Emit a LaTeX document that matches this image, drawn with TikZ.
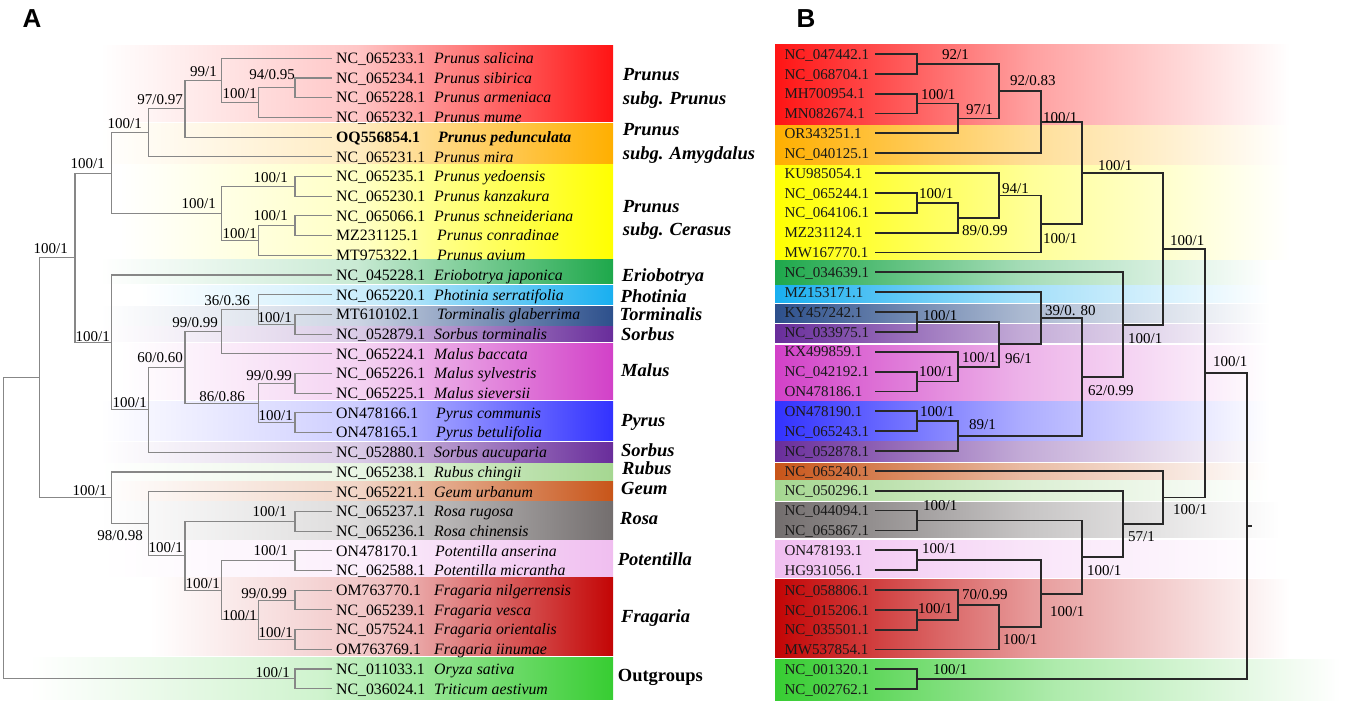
\documentclass[tikz,border=0pt]{standalone}
\usepackage{fontspec}
\setmainfont{Liberation Serif}
\newfontfamily\panelfont{Liberation Sans}
\definecolor{cPru}{RGB}{255,20,20}
\definecolor{cAmy}{RGB}{255,175,0}
\definecolor{cCer}{RGB}{255,255,0}
\definecolor{cEri}{RGB}{30,168,75}
\definecolor{cPho}{RGB}{25,175,240}
\definecolor{cTor}{RGB}{45,80,140}
\definecolor{cSor}{RGB}{105,45,155}
\definecolor{cMal}{RGB}{210,65,200}
\definecolor{cPyr}{RGB}{50,50,255}
\definecolor{cRub}{RGB}{165,215,145}
\definecolor{cGeu}{RGB}{200,85,25}
\definecolor{cRos}{RGB}{115,110,110}
\definecolor{cPot}{RGB}{240,190,240}
\definecolor{cFra}{RGB}{195,5,5}
\definecolor{cOut}{RGB}{55,205,50}
\definecolor{lineA}{RGB}{135,135,135}
\definecolor{lineB}{RGB}{40,40,40}
\definecolor{txtB}{RGB}{25,25,25}
\tikzset{
  treeA/.style={draw=lineA, line width=1.1pt},
  treeB/.style={draw=lineB, line width=1.8pt},
  tipid/.style={anchor=base west, inner sep=0pt, font=\fontsize{15.8}{18}\selectfont},
  tipsp/.style={anchor=base west, inner sep=0pt, font=\fontsize{15.8}{18}\selectfont\itshape},
  tipb/.style={anchor=base west, inner sep=0pt, text=txtB, font=\fontsize{15}{18}\selectfont},
  supA/.style={anchor=base east, inner sep=0pt, font=\fontsize{15}{18}\selectfont},
  supB/.style={anchor=base west, inner sep=0pt, font=\fontsize{15}{18}\selectfont},
  grp/.style={anchor=base west, inner sep=0pt, font=\fontsize{18.5}{22}\selectfont\bfseries\itshape},
  panel/.style={inner sep=0pt, font=\panelfont\bfseries\fontsize{26}{30}\selectfont}
}
\newcommand\bandA[4]{\shade[left color=white,right color=#4,middle color=#4!24] (#1,#2) rectangle (613,#3);}
\newcommand\bandB[4]{\shade[left color=#4,right color=white,middle color=#4!40] (775,#1) rectangle (#3,#2);}
\newcommand\TA[4]{\coordinate (ta#1) at (332,{58.3+19.7*#1});
  \node[tipid] (ida#1) at (336,{63.6+19.7*#1}) {#2};
  \node[tipsp] (spa#1) at (#4,{63.6+19.7*#1}) {#3};}
\newcommand\TB[2]{\coordinate (tb#1) at (875,{54+19.85*#1});
  \node[tipb] (idb#1) at (784.3,{59.2+19.85*#1}) {#2};}
\newcommand\kidsA[3]{\draw[treeA] (#1) |- (#2) (#1) |- (#3);}
\newcommand\kidsB[3]{\draw[treeB] (#1) |- (#2) (#1) |- (#3);}
\newcommand\LA[4]{\node[supA] (#1) at (#2,{#3+5}) {#4};}
\newcommand\LB[4]{\node[supB] (#1) at (#2,{#3+5}) {#4};}
\newcommand\GL[4]{\node[grp] (#1) at (#2,{#3+6}) {#4};}
\begin{document}
\begin{tikzpicture}[x=1pt,y=-1pt]
\useasboundingbox (0,0) rectangle (1358,706);
% ---------- bands A
\bandA{100}{46}{121.7}{cPru}
\bandA{100}{123.3}{163.3}{cAmy}
\bandA{120}{165}{258}{cCer}
\bandA{100}{259.5}{283.3}{cEri}
\bandA{140}{285}{304.3}{cPho}
\bandA{100}{306}{325}{cTor}
\bandA{100}{326.7}{341.7}{cSor}
\bandA{120}{343.3}{399.3}{cMal}
\bandA{100}{401}{440}{cPyr}
\bandA{100}{442.3}{462.3}{cSor}
\bandA{100}{463.3}{480}{cRub}
\bandA{100}{481.7}{500}{cGeu}
\bandA{100}{501.7}{539}{cRos}
\bandA{100}{540.7}{576}{cPot}
\bandA{150}{577.7}{655.7}{cFra}
\bandA{30}{657.7}{699}{cOut}
% ---------- bands B
\bandB{45}{124.3}{1290}{cPru}
\bandB{126}{164.3}{1290}{cAmy}
\bandB{166}{259.3}{1290}{cCer}
\bandB{260.5}{284}{1270}{cEri}
\bandB{285.7}{302.7}{1270}{cPho}
\bandB{304.3}{322.7}{1270}{cTor}
\bandB{324.3}{342.7}{1270}{cSor}
\bandB{345}{400}{1270}{cMal}
\bandB{401.7}{440}{1270}{cPyr}
\bandB{441.7}{461.7}{1270}{cSor}
\bandB{463.3}{479}{1270}{cGeu}
\bandB{480.7}{500}{1270}{cRub}
\bandB{502.7}{537.7}{1280}{cRos}
\bandB{540}{577.7}{1280}{cPot}
\bandB{579.3}{657.3}{1290}{cFra}
\bandB{659.3}{700}{1340}{cOut}
% ---------- panel letters
\node[panel] (pA) at (32,19) {A};
\node[panel] (pB) at (806,19) {B};
% ---------- tips A
\TA{0}{NC\_065233.1}{Prunus salicina}{434}
\TA{1}{NC\_065234.1}{Prunus sibirica}{434}
\TA{2}{NC\_065228.1}{Prunus armeniaca}{434}
\TA{3}{NC\_065232.1}{Prunus mume}{434}
\coordinate (ta4) at (332,{58.3+19.7*4});
\node[tipid,font=\fontsize{15.8}{18}\selectfont\bfseries] (ida4) at (336,{63.6+19.7*4}) {OQ556854.1};
\node[tipsp,font=\fontsize{15.8}{18}\selectfont\bfseries\itshape] (spa4) at (438,{63.6+19.7*4}) {Prunus pedunculata};
\TA{5}{NC\_065231.1}{Prunus mira}{434}
\TA{6}{NC\_065235.1}{Prunus yedoensis}{434}
\TA{7}{NC\_065230.1}{Prunus kanzakura}{434}
\TA{8}{NC\_065066.1}{Prunus schneideriana}{434}
\TA{9}{MZ231125.1}{Prunus conradinae}{437}
\TA{10}{MT975322.1}{Prunus avium}{437}
\TA{11}{NC\_045228.1}{Eriobotrya japonica}{434}
\TA{12}{NC\_065220.1}{Photinia serratifolia}{434}
\TA{13}{MT610102.1}{Torminalis glaberrima}{437}
\TA{14}{NC\_052879.1}{Sorbus torminalis}{434}
\TA{15}{NC\_065224.1}{Malus baccata}{434}
\TA{16}{NC\_065226.1}{Malus sylvestris}{434}
\TA{17}{NC\_065225.1}{Malus sieversii}{434}
\TA{18}{ON478166.1}{Pyrus communis}{436}
\TA{19}{ON478165.1}{Pyrus betulifolia}{436}
\TA{20}{NC\_052880.1}{Sorbus aucuparia}{434}
\TA{21}{NC\_065238.1}{Rubus chingii}{434}
\TA{22}{NC\_065221.1}{Geum urbanum}{434}
\TA{23}{NC\_065237.1}{Rosa rugosa}{434}
\TA{24}{NC\_065236.1}{Rosa chinensis}{434}
\TA{25}{ON478170.1}{Potentilla anserina}{435}
\TA{26}{NC\_062588.1}{Potentilla micrantha}{434}
\TA{27}{OM763770.1}{Fragaria nilgerrensis}{434}
\TA{28}{NC\_065239.1}{Fragaria vesca}{434}
\TA{29}{NC\_057524.1}{Fragaria orientalis}{434}
\TA{30}{OM763769.1}{Fragaria iinumae}{434}
\TA{31}{NC\_011033.1}{Oryza sativa}{434}
\TA{32}{NC\_036024.1}{Triticum aestivum}{434}
% ---------- internal nodes A
\coordinate (a_pp1) at (295,87.85);
\coordinate (a_pp2) at (258.3,102.6);
\coordinate (a_pp3) at (221.7,80.45);
\coordinate (a_pp4) at (185,108.8);
\coordinate (a_pp5) at (148.3,132.8);
\coordinate (a_c1) at (295,186.35);
\coordinate (a_c2) at (295,225.75);
\coordinate (a_c3) at (258.3,240.5);
\coordinate (a_c4) at (221.7,213.4);
\coordinate (a_pr) at (111.7,173.1);
\coordinate (a_t1) at (295,324.25);
\coordinate (a_t2) at (258.3,309.5);
\coordinate (a_m1) at (221.7,331.65);
\coordinate (a_m2) at (295,383.35);
\coordinate (a_py) at (295,422.75);
\coordinate (a_m3) at (258.3,403.05);
\coordinate (a_m4) at (185,367.35);
\coordinate (a_m5) at (148.3,409.8);
\coordinate (a_m6) at (111.7,342.4);
\coordinate (a_mp) at (75,257.75);
\coordinate (a_r1) at (295,521.25);
\coordinate (a_po) at (295,560.65);
\coordinate (a_f1) at (295,600.05);
\coordinate (a_f2) at (295,639.45);
\coordinate (a_f3) at (258.3,619.75);
\coordinate (a_f4) at (221.7,590.2);
\coordinate (a_f5) at (185,555.7);
\coordinate (a_f6) at (148.3,523.7);
\coordinate (a_f7) at (111.7,497.85);
\coordinate (a_in) at (39.3,377.8);
\coordinate (a_og) at (295,678.85);
\coordinate (a_root) at (3.3,528.3);
\kidsA{a_pp1}{ta1}{ta2}
\kidsA{a_pp2}{a_pp1}{ta3}
\kidsA{a_pp3}{ta0}{a_pp2}
\kidsA{a_pp4}{a_pp3}{ta4}
\kidsA{a_pp5}{a_pp4}{ta5}
\kidsA{a_c1}{ta6}{ta7}
\kidsA{a_c2}{ta8}{ta9}
\kidsA{a_c3}{a_c2}{ta10}
\kidsA{a_c4}{a_c1}{a_c3}
\kidsA{a_pr}{a_pp5}{a_c4}
\kidsA{a_t1}{ta13}{ta14}
\kidsA{a_t2}{ta12}{a_t1}
\kidsA{a_m1}{a_t2}{ta15}
\kidsA{a_m2}{ta16}{ta17}
\kidsA{a_py}{ta18}{ta19}
\kidsA{a_m3}{a_m2}{a_py}
\kidsA{a_m4}{a_m1}{a_m3}
\kidsA{a_m5}{a_m4}{ta20}
\kidsA{a_m6}{ta11}{a_m5}
\kidsA{a_mp}{a_pr}{a_m6}
\kidsA{a_r1}{ta23}{ta24}
\kidsA{a_po}{ta25}{ta26}
\kidsA{a_f1}{ta27}{ta28}
\kidsA{a_f2}{ta29}{ta30}
\kidsA{a_f3}{a_f1}{a_f2}
\kidsA{a_f4}{a_po}{a_f3}
\kidsA{a_f5}{a_r1}{a_f4}
\kidsA{a_f6}{ta22}{a_f5}
\kidsA{a_f7}{ta21}{a_f6}
\kidsA{a_in}{a_mp}{a_f7}
\kidsA{a_og}{ta31}{ta32}
\kidsA{a_root}{a_in}{a_og}
% ---------- support labels A
\LA{la1}{217}{71.7}{99/1}
\LA{la2}{295}{74.3}{94/0.95}
\LA{la3}{257}{93.3}{100/1}
\LA{la4}{183}{99.3}{97/0.97}
\LA{la5}{142}{124}{100/1}
\LA{la6}{105}{163.3}{100/1}
\LA{la7}{288}{177.3}{100/1}
\LA{la8}{216}{203.3}{100/1}
\LA{la9}{288}{215}{100/1}
\LA{la10}{257}{233.3}{100/1}
\LA{la11}{68}{248.3}{100/1}
\LA{la12}{110}{336.7}{100/1}
\LA{la13}{250}{300}{36/0.36}
\LA{la14}{218}{322.7}{99/0.99}
\LA{la15}{292}{317.3}{100/1}
\LA{la16}{183}{357.3}{60/0.60}
\LA{la17}{292}{375}{99/0.99}
\LA{la18}{245}{396}{86/0.86}
\LA{la19}{147}{402.7}{100/1}
\LA{la20}{293}{415}{100/1}
\LA{la21}{107}{490}{100/1}
\LA{la22}{287}{511.7}{100/1}
\LA{la23}{143}{535}{98/0.98}
\LA{la24}{183}{547}{100/1}
\LA{la25}{288}{550}{100/1}
\LA{la26}{220}{583}{100/1}
\LA{la27}{287}{593}{99/0.99}
\LA{la28}{257}{615}{100/1}
\LA{la29}{293}{632.7}{100/1}
\LA{la30}{290}{672}{100/1}
% ---------- group labels A
\GL{g1}{622.7}{75}{Prunus}
\GL{g1b}{622.7}{98.3}{subg. Prunus}
\GL{g2}{622.7}{130}{Prunus}
\GL{g2b}{622.7}{153.3}{subg. Amygdalus}
\GL{g3}{622.7}{206}{Prunus}
\GL{g3b}{622.7}{229.3}{subg. Cerasus}
\GL{g4}{621.7}{275}{Eriobotrya}
\GL{g5}{620.5}{296}{Photinia}
\GL{g6}{619.5}{314.3}{Torminalis}
\GL{g7}{621}{334}{Sorbus}
\GL{g8}{621}{370}{Malus}
\GL{g9}{621}{420}{Pyrus}
\GL{g10}{621}{450.7}{Sorbus}
\GL{g11}{622}{468.3}{Rubus}
\GL{g12}{621}{488.3}{Geum}
\GL{g13}{620}{518.3}{Rosa}
\GL{g14}{617.7}{559.3}{Potentilla}
\GL{g15}{621}{616.7}{Fragaria}
\node[grp,font=\fontsize{18.5}{22}\selectfont\bfseries] (g16) at (617.7,681.7) {Outgroups};
% ---------- tips B
\TB{0}{NC\_047442.1}
\TB{1}{NC\_068704.1}
\TB{2}{MH700954.1}
\TB{3}{MN082674.1}
\TB{4}{OR343251.1}
\TB{5}{NC\_040125.1}
\TB{6}{KU985054.1}
\TB{7}{NC\_065244.1}
\TB{8}{NC\_064106.1}
\TB{9}{MZ231124.1}
\TB{10}{MW167770.1}
\TB{11}{NC\_034639.1}
\TB{12}{MZ153171.1}
\TB{13}{KY457242.1}
\TB{14}{NC\_033975.1}
\TB{15}{KX499859.1}
\TB{16}{NC\_042192.1}
\TB{17}{ON478186.1}
\TB{18}{ON478190.1}
\TB{19}{NC\_065243.1}
\TB{20}{NC\_052878.1}
\TB{21}{NC\_065240.1}
\TB{22}{NC\_050296.1}
\TB{23}{NC\_044094.1}
\TB{24}{NC\_065867.1}
\TB{25}{ON478193.1}
\TB{26}{HG931056.1}
\TB{27}{NC\_058806.1}
\TB{28}{NC\_015206.1}
\TB{29}{NC\_035501.1}
\TB{30}{MW537854.1}
\TB{31}{NC\_001320.1}
\TB{32}{NC\_002762.1}
% ---------- internal nodes B
\coordinate (b1) at (916.7,63.9);
\coordinate (b2) at (916.7,103.6);
\coordinate (b3) at (958.3,118.5);
\coordinate (b4) at (999,91.2);
\coordinate (b5) at (1040.7,122.2);
\coordinate (b6) at (916.7,202.9);
\coordinate (b7) at (958.3,217.8);
\coordinate (b8) at (999,195.45);
\coordinate (b9) at (1040.7,224);
\coordinate (b10) at (1081.7,173.1);
\coordinate (b11) at (916.7,322);
\coordinate (b12) at (916.7,381.5);
\coordinate (b13) at (958.3,366.6);
\coordinate (b14) at (999,344.3);
\coordinate (b15) at (1040.7,318.25);
\coordinate (b16) at (916.7,421.2);
\coordinate (b17) at (958.3,436.1);
\coordinate (b18) at (1081.7,377.2);
\coordinate (b19) at (1122.7,324.8);
\coordinate (b20) at (1163.3,249);
\coordinate (b21) at (916.7,520.5);
\coordinate (b22) at (916.7,560.2);
\coordinate (b23) at (916.7,619.7);
\coordinate (b24) at (958.3,604.8);
\coordinate (b25) at (999,627.2);
\coordinate (b26) at (1040.7,593.7);
\coordinate (b27) at (1081.7,557.1);
\coordinate (b28) at (1122.7,523.9);
\coordinate (b29) at (1163.3,497.4);
\coordinate (b30) at (1205,373.2);
\coordinate (b31) at (916.7,679.3);
\coordinate (broot) at (1246.7,526.25);
\coordinate (bstub) at (1251.5,526.25);
\kidsB{b1}{tb0}{tb1}
\kidsB{b2}{tb2}{tb3}
\kidsB{b3}{b2}{tb4}
\kidsB{b4}{b1}{b3}
\kidsB{b5}{b4}{tb5}
\kidsB{b6}{tb7}{tb8}
\kidsB{b7}{b6}{tb9}
\kidsB{b8}{tb6}{b7}
\kidsB{b9}{b8}{tb10}
\kidsB{b10}{b5}{b9}
\kidsB{b11}{tb13}{tb14}
\kidsB{b12}{tb16}{tb17}
\kidsB{b13}{tb15}{b12}
\kidsB{b14}{b11}{b13}
\kidsB{b15}{tb12}{b14}
\kidsB{b16}{tb18}{tb19}
\kidsB{b17}{b16}{tb20}
\kidsB{b18}{b15}{b17}
\kidsB{b19}{tb11}{b18}
\kidsB{b20}{b10}{b19}
\kidsB{b21}{tb23}{tb24}
\kidsB{b22}{tb25}{tb26}
\kidsB{b23}{tb28}{tb29}
\kidsB{b24}{tb27}{b23}
\kidsB{b25}{b24}{tb30}
\kidsB{b26}{b22}{b25}
\kidsB{b27}{b21}{b26}
\kidsB{b28}{tb22}{b27}
\kidsB{b29}{tb21}{b28}
\kidsB{b30}{b20}{b29}
\kidsB{b31}{tb31}{tb32}
\kidsB{broot}{b30}{b31}
\draw[treeB] (broot) -- (bstub);
% ---------- support labels B
\LB{lb1}{942}{55}{92/1}
\LB{lb2}{921}{95}{100/1}
\LB{lb3}{966}{110}{97/1}
\LB{lb4}{1010}{81}{92/0.83}
\LB{lb5}{1043}{117.3}{100/1}
\LB{lb6}{919}{193.3}{100/1}
\LB{lb7}{962}{230}{89/0.99}
\LB{lb8}{1002}{188.3}{94/1}
\LB{lb9}{1043}{238.3}{100/1}
\LB{lb10}{1098}{166}{100/1}
\LB{lb11}{923}{315}{100/1}
\LB{lb12}{919}{371}{100/1}
\LB{lb13}{962}{357.3}{100/1}
\LB{lb14}{1005}{358.3}{96/1}
\LB{lb15}{1045}{310.7}{39/0. 80}
\LB{lb16}{920}{411.7}{100/1}
\LB{lb17}{969}{424}{89/1}
\LB{lb18}{1088}{390}{62/0.99}
\LB{lb19}{1128}{338.3}{100/1}
\LB{lb20}{1170}{240}{100/1}
\LB{lb21}{923}{505}{100/1}
\LB{lb22}{922}{548}{100/1}
\LB{lb23}{918}{608.3}{100/1}
\LB{lb24}{962}{594}{70/0.99}
\LB{lb25}{1003}{639}{100/1}
\LB{lb26}{1050}{611.7}{100/1}
\LB{lb27}{1087}{570}{100/1}
\LB{lb28}{1128}{536}{57/1}
\LB{lb29}{1173}{509}{100/1}
\LB{lb30}{1213}{361}{100/1}
\LB{lb31}{933}{669}{100/1}
\end{tikzpicture}
\end{document}
